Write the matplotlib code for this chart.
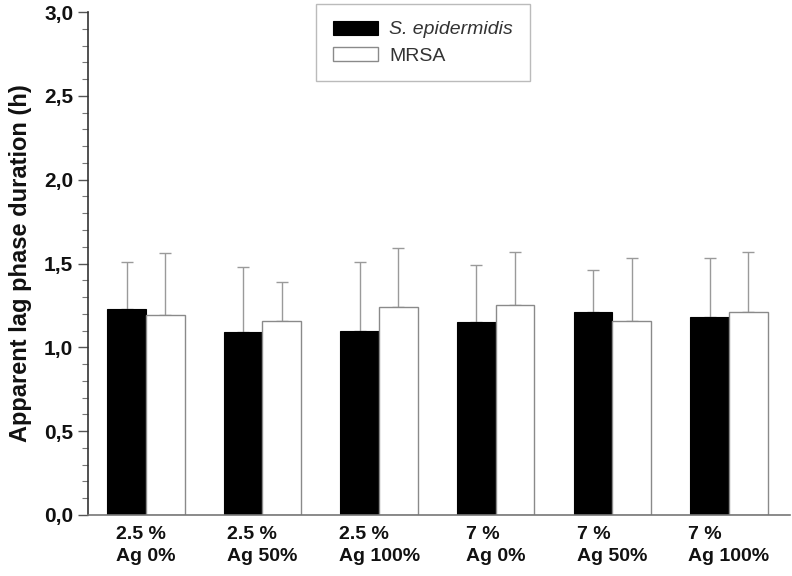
import matplotlib
matplotlib.use("Agg")
import matplotlib.pyplot as plt
import numpy as np
from matplotlib.ticker import MultipleLocator, FuncFormatter

categories = ["2.5 %\nAg 0%", "2.5 %\nAg 50%", "2.5 %\nAg 100%",
              "7 %\nAg 0%", "7 %\nAg 50%", "7 %\nAg 100%"]
sepi_mean = [1.23, 1.09, 1.10, 1.15, 1.21, 1.18]
sepi_top = [1.51, 1.48, 1.51, 1.49, 1.46, 1.53]
mrsa_mean = [1.19, 1.16, 1.24, 1.25, 1.16, 1.21]
mrsa_top = [1.56, 1.39, 1.59, 1.57, 1.53, 1.57]

plt.rcParams['font.family'] = ['Liberation Sans', 'DejaVu Sans']

fig = plt.figure(figsize=(7.92, 5.76), dpi=100)
ax = fig.add_axes([0.111, 0.106, 0.886, 0.873])

x = np.arange(len(categories))
w = 0.332
sepi_err = np.array(sepi_top) - np.array(sepi_mean)
mrsa_err = np.array(mrsa_top) - np.array(mrsa_mean)
errc = '#9a9a9a'
ax.bar(x - w/2, sepi_mean, w, color='black', edgecolor='black', linewidth=0.8,
       label='S. epidermidis', zorder=2)
ax.bar(x + w/2, mrsa_mean, w, color='white', edgecolor='#8a8a8a', linewidth=1.0,
       label='MRSA', zorder=2)
ax.errorbar(x - w/2, sepi_mean, yerr=[np.zeros(6), sepi_err], fmt='none',
            ecolor=errc, elinewidth=1.0, capsize=4, capthick=1.0, zorder=1)
ax.errorbar(x + w/2, mrsa_mean, yerr=[np.zeros(6), mrsa_err], fmt='none',
            ecolor=errc, elinewidth=1.0, capsize=4, capthick=1.0, zorder=1)

ax.set_xlim(-0.497, 5.52)
ax.set_ylim(0, 3.0)
ax.yaxis.set_major_locator(MultipleLocator(0.5))
ax.yaxis.set_minor_locator(MultipleLocator(0.1))
ax.yaxis.set_major_formatter(FuncFormatter(lambda v, p: f"{v:.1f}".replace('.', ',')))
ax.set_xticks(x)
ax.set_xticklabels(categories, fontsize=14, fontweight='bold', linespacing=1.38,
                   multialignment='left', color='#111111')
ax.tick_params(axis='x', length=0, pad=8)
ax.tick_params(axis='y', which='major', length=7, width=1, color='#555555',
               labelsize=15, pad=3.5)
ax.tick_params(axis='y', which='minor', length=4, width=0.8, color='#777777')
for lab in ax.get_yticklabels():
    lab.set_fontweight('bold')
    lab.set_color('#111111')

ax.spines['top'].set_visible(False)
ax.spines['right'].set_visible(False)
ax.spines['left'].set_color('#333333')
ax.spines['left'].set_linewidth(1.2)
ax.spines['bottom'].set_color('#777777')
ax.spines['bottom'].set_linewidth(1.2)

ax.set_ylabel("Apparent lag phase duration (h)", fontsize=17, fontweight='bold', labelpad=9,
              color='#111111')

leg = ax.legend(loc='upper center', bbox_to_anchor=(0.534, 0.993), bbox_transform=fig.transFigure,
                fontsize=14, frameon=True, fancybox=False, edgecolor='#aaaaaa',
                borderpad=0.85, handlelength=2.3, handleheight=0.75, handletextpad=0.6,
                labelspacing=0.42, borderaxespad=0)
leg.get_frame().set_linewidth(1.0)
leg.get_texts()[0].set_fontstyle('italic')
for t in leg.get_texts():
    t.set_color('#333333')

fig.savefig("out.png", dpi=100)
